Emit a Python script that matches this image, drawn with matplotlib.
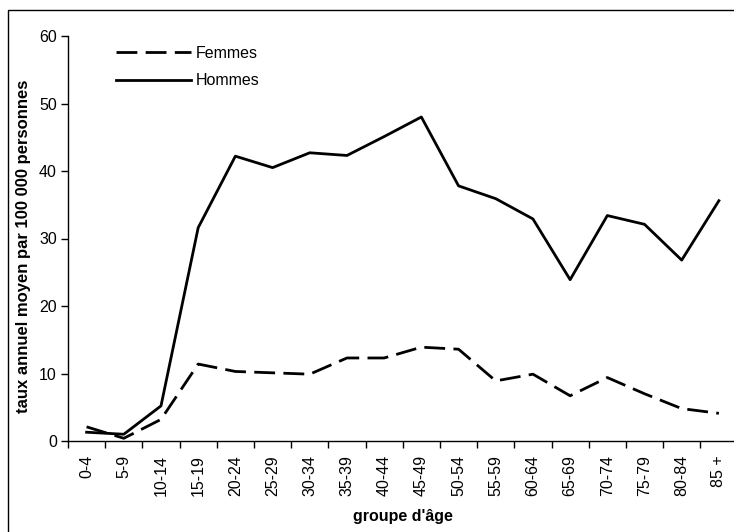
import numpy as np
import matplotlib
matplotlib.use("Agg")
import matplotlib.pyplot as plt
from matplotlib.patches import Rectangle
from matplotlib.ticker import FixedLocator, MultipleLocator

plt.rcParams['font.family'] = ['Liberation Sans', 'DejaVu Sans']

# ---------- data ----------
groupes = ["0-4", "5-9", "10-14", "15-19", "20-24", "25-29", "30-34", "35-39",
           "40-44", "45-49", "50-54", "55-59", "60-64", "65-69", "70-74",
           "75-79", "80-84", "85 +"]
femmes = [2.1, 0.4, 3.2, 11.4, 10.3, 10.1, 9.9, 12.3, 12.3, 13.9, 13.6,
          8.9, 9.9, 6.7, 9.4, 7.0, 4.8, 4.1]
hommes = [1.3, 1.0, 5.2, 31.6, 42.2, 40.5, 42.7, 42.3, 45.1, 48.0, 37.8,
          35.9, 32.9, 23.9, 33.4, 32.1, 26.8, 35.6]

W, H = 734, 532
FS = 11.5
fig = plt.figure(figsize=(W / 100, H / 100), dpi=100)

# outer frame (cut at right / bottom like the original)
fig.patches.append(Rectangle((8 / W, -0.05), 1.1, 1 - 10 / H + 0.05,
                             transform=fig.transFigure, fill=False,
                             edgecolor="black", linewidth=1.0))

ax = fig.add_axes([68 / W, (H - 441) / H, (737.5 - 68) / W, (441 - 36) / H])
x = np.arange(len(groupes))

ax.plot(x, femmes, color="black", lw=2, linestyle=(0, (7.5, 3)), label="Femmes")
ax.plot(x, hommes, color="black", lw=2, label="Hommes")

ax.set_xlim(-0.5, len(groupes) - 0.5)
ax.set_ylim(0, 60)
ax.yaxis.set_major_locator(MultipleLocator(10))

# ticks between categories, labels centred
ax.xaxis.set_major_locator(FixedLocator(np.arange(len(groupes) + 1) - 0.5))
ax.set_xticklabels([])
ax.set_xticks(x, minor=True)
ax.set_xticklabels(groupes, minor=True, rotation=90, fontsize=FS)
ax.tick_params(axis="x", which="minor", length=0, pad=10)
ax.tick_params(axis="x", which="major", length=5, width=1, direction="out")
ax.tick_params(axis="y", length=5, width=1, direction="out", labelsize=FS, pad=3)

for s in ["top", "right"]:
    ax.spines[s].set_visible(False)
ax.spines["left"].set_linewidth(1)
ax.spines["bottom"].set_linewidth(1)

ax.set_ylabel("taux annuel moyen par 100 000 personnes", fontsize=12,
              fontweight="bold")
ax.yaxis.set_label_coords(-0.0553, 0.481)
ax.set_xlabel("groupe d'âge", fontsize=FS, fontweight="bold", labelpad=9)

ax.legend(loc="upper left", bbox_to_anchor=(0.05, 1.012), frameon=False,
          fontsize=FS, handlelength=4.7, handletextpad=0.3, labelspacing=0.8)

fig.savefig("out.png", dpi=100)
